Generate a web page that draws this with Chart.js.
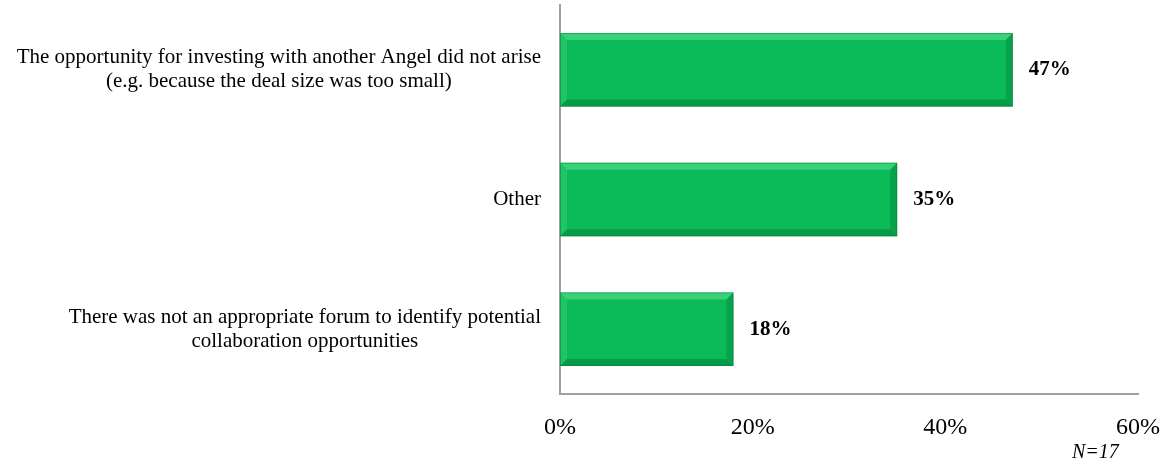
<!DOCTYPE html>
<html>
<head>
<meta charset="utf-8">
<script src="https://cdn.jsdelivr.net/npm/chart.js@4.4.1/dist/chart.umd.min.js"></script>
<style>
  body { margin: 0; background: #fff; }
  #wrap { width: 1169px; height: 464px; position: relative; }
</style>
</head>
<body>
<div id="wrap"><canvas id="reasonsChart"></canvas></div>
<script>
// reasons for not co-investing (share of respondents)
const categories = [
  ['The opportunity for investing with another Angel did not arise', '(e.g. because the deal size was too small)'],
  ['Other'],
  ['There was not an appropriate forum to identify potential', 'collaboration opportunities']
];
const shares = [47, 35, 18];
const tickValues = [0, 20, 40, 60];
const sampleNote = 'N=17';

const serif = "'Liberation Serif', 'Times New Roman', serif";
const barGreen = 'rgb(11, 187, 88)';

// bevelled look on the bars, like the office 3D bar style
const bevelPlugin = {
  id: 'bevel',
  afterDatasetsDraw(chart) {
    const ctx = chart.ctx;
    const b = 7;
    chart.getDatasetMeta(0).data.forEach(bar => {
      const p = bar.getProps(['x', 'y', 'base', 'height'], true);
      const x0 = p.base, x1 = p.x, y0 = p.y - p.height / 2, y1 = p.y + p.height / 2;
      const poly = (pts, color) => {
        ctx.beginPath();
        ctx.moveTo(pts[0][0], pts[0][1]);
        pts.slice(1).forEach(q => ctx.lineTo(q[0], q[1]));
        ctx.closePath();
        ctx.fillStyle = color;
        ctx.fill();
      };
      ctx.save();
      poly([[x0, y0], [x1, y0], [x1 - b, y0 + b], [x0 + b, y0 + b]], 'rgba(130, 245, 170, 0.4)');
      poly([[x0, y1], [x1, y1], [x1 - b, y1 - b], [x0 + b, y1 - b]], 'rgba(0, 95, 40, 0.35)');
      poly([[x0, y0], [x0 + b, y0 + b], [x0 + b, y1 - b], [x0, y1]], 'rgba(110, 235, 155, 0.2)');
      poly([[x1, y0], [x1 - b, y0 + b], [x1 - b, y1 - b], [x1, y1]], 'rgba(0, 105, 45, 0.3)');
      ctx.strokeStyle = 'rgba(0, 120, 50, 0.45)';
      ctx.lineWidth = 1;
      ctx.strokeRect(x0 + 0.5, y0 + 0.5, x1 - x0 - 1, y1 - y0 - 1);
      ctx.restore();
    });
  }
};

// value labels, category labels (centred lines, right-aligned block) and the N note
const labelPlugin = {
  id: 'labels',
  afterDraw(chart) {
    const ctx = chart.ctx;
    const yScale = chart.scales.y;
    ctx.save();
    ctx.fillStyle = '#000';
    ctx.textBaseline = 'middle';

    ctx.font = 'bold 21px ' + serif;
    ctx.textAlign = 'left';
    chart.getDatasetMeta(0).data.forEach((bar, i) => {
      ctx.fillText(shares[i] + '%', bar.x + 16, bar.y);
    });

    ctx.font = '21px ' + serif;
    ctx.textAlign = 'center';
    const right = 541, lineH = 24;
    categories.forEach((lines, i) => {
      const cy = yScale.getPixelForValue(i);
      const w = Math.max(...lines.map(t => ctx.measureText(t).width));
      const cx = right - w / 2;
      const top = cy - (lines.length - 1) * lineH / 2;
      lines.forEach((t, k) => ctx.fillText(t, cx, top + k * lineH));
    });

    ctx.font = 'italic 20px ' + serif;
    ctx.textAlign = 'left';
    ctx.fillText(sampleNote, 1072, 453);
    ctx.restore();
  }
};

new Chart(document.getElementById('reasonsChart'), {
  type: 'bar',
  data: {
    labels: categories,
    datasets: [{
      data: shares,
      backgroundColor: barGreen,
      borderWidth: 0,
      categoryPercentage: 1,
      barPercentage: 0.567
    }]
  },
  options: {
    indexAxis: 'y',
    responsive: true,
    maintainAspectRatio: false,
    animation: false,
    layout: { padding: { top: 5, right: 31, bottom: 0, left: 0 } },
    plugins: { legend: { display: false }, tooltip: { enabled: false } },
    scales: {
      x: {
        min: tickValues[0],
        max: tickValues[tickValues.length - 1],
        afterBuildTicks: scale => { scale.ticks = tickValues.map(v => ({ value: v })); },
        afterFit: scale => {
          scale.height = 70;
          scale.paddingLeft = 0;
          scale.paddingRight = 0;
        },
        grid: { display: false, drawTicks: false },
        border: { display: true, color: '#a0a0a0', width: 2 },
        ticks: {
          padding: 19,
          color: '#000',
          font: { family: serif, size: 24 },
          callback: v => v + '%'
        }
      },
      y: {
        afterFit: scale => { scale.width = 560; },
        grid: { display: false, drawTicks: false },
        border: { display: true, color: '#a0a0a0', width: 2 },
        ticks: { display: false }
      }
    }
  },
  plugins: [bevelPlugin, labelPlugin]
});
</script>
</body>
</html>
